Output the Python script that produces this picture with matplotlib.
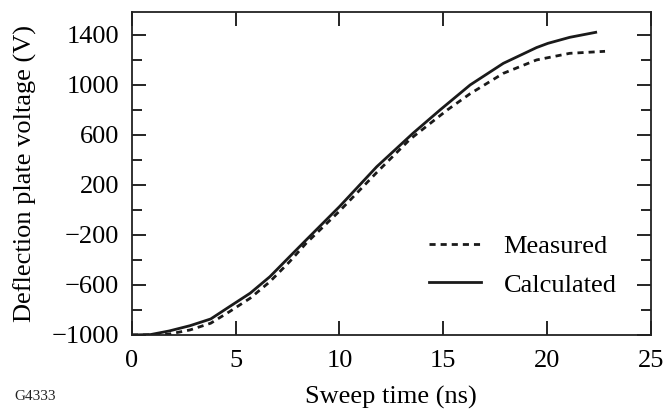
import matplotlib
matplotlib.use("Agg")
import matplotlib.pyplot as plt
from matplotlib.ticker import MultipleLocator

# Data
t_measured = [0, 1.2, 1.8, 2.8, 3.8, 4.7, 5.7, 6.65, 7.6, 8.4, 10.0, 11.8,
              13.4, 15.2, 16.3, 17.9, 19.5, 21.1, 22.8]
v_measured = [-1000, -1000, -993, -960, -906, -814, -706, -574, -414, -266,
              -10, 300, 565, 800, 930, 1093, 1200, 1253, 1269]

t_calculated = [0, 0.9, 1.8, 2.8, 3.8, 4.7, 5.7, 6.65, 7.6, 8.4, 10.0, 11.8,
                13.55, 14.85, 16.3, 17.9, 19.5, 20.05, 21.1, 22.35]
v_calculated = [-1000, -997, -968, -926, -872, -774, -666, -534, -374, -240,
                26, 346, 614, 800, 1000, 1173, 1299, 1333, 1381, 1421]

x_ticks = [0, 5, 10, 15, 20, 25]
y_ticks = [-1000, -600, -200, 200, 600, 1000, 1400]
y_labels = ["\u22121000", "\u2212600", "\u2212200", "200", "600", "1000", "1400"]

plt.rcParams['font.family'] = ['Liberation Serif', 'DejaVu Serif']

fig = plt.figure(figsize=(6.66, 4.12), dpi=100)
ax = fig.add_axes([0.198, 0.187, 0.779, 0.784])

# Curves
ax.plot(t_measured, v_measured, color='#1a1a1a', lw=2.0,
        linestyle=(0, (2.2, 1.8)), label='Measured')
ax.plot(t_calculated, v_calculated, color='#1a1a1a', lw=2.0,
        label='Calculated')

# Axes
ax.set_xlim(0, 25)
ax.set_ylim(-1000, 1584)
ax.set_xticks(x_ticks)
ax.set_yticks(y_ticks)
ax.set_yticklabels(y_labels)
ax.yaxis.set_minor_locator(MultipleLocator(200))

ax.tick_params(axis='both', which='major', direction='in', length=10,
               width=1.2, labelsize=19, top=True, right=True)
ax.tick_params(axis='x', which='major', pad=11)
ax.tick_params(axis='y', which='major', pad=9)
ax.tick_params(axis='y', which='minor', direction='in', length=7,
               width=1.2, right=True)
for s in ax.spines.values():
    s.set_linewidth(1.3)
    s.set_color('#222222')

ax.set_xlabel('Sweep time (ns)', fontsize=19, labelpad=10)
ax.set_ylabel('Deflection plate voltage (V)', fontsize=19, labelpad=11)

# Legend
ax.legend(loc='lower right', bbox_to_anchor=(0.98, 0.045), frameon=False,
          fontsize=19, handlelength=1.95, handletextpad=0.87,
          labelspacing=0.58)

fig.text(0.021, 0.028, 'G4333', fontsize=11, color='#222222')

plt.savefig("out.png", dpi=100)
